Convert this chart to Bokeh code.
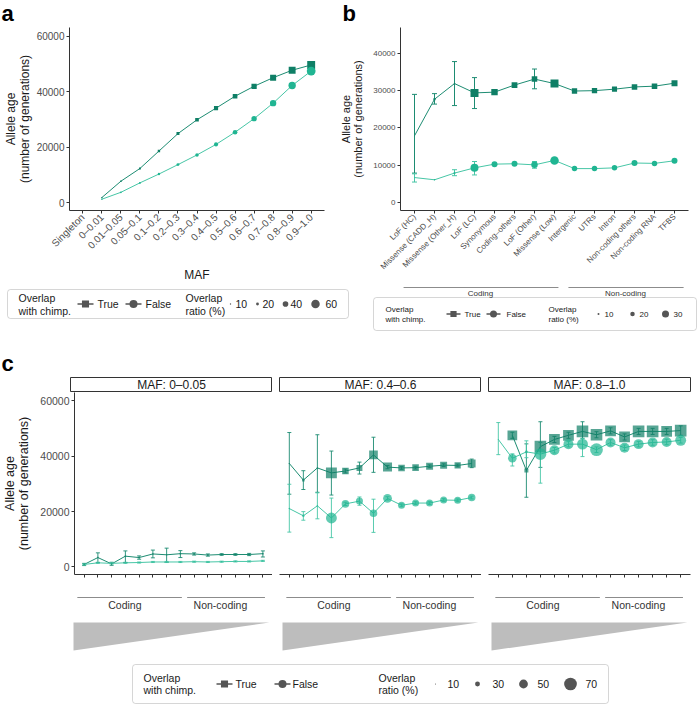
import math
from bokeh.plotting import figure
from bokeh.models import (FactorRange, Range1d, FixedTicker, NumeralTickFormatter,
                          BoxAnnotation, CustomLabelingPolicy)
from bokeh.layouts import row, column
from bokeh.embed import file_html
from bokeh.resources import INLINE
from bokeh.core.properties import value

nan = float("nan")
FONT = "Liberation Sans"
C_TRUE = "#0f7f66"
C_FALSE = "#20b592"
L_TRUE = "#1d8c72"
L_FALSE = "#47c6a6"
KEY = "#555555"
TXT = "#1a1a1a"
TICK = "#4d4d4d"

# ---------------- data: panel a ----------------
maf_bins = ["Singleton", "0–0.01", "0.01–0.05", "0.05–0.1", "0.1–0.2", "0.2–0.3",
            "0.3–0.4", "0.4–0.5", "0.5–0.6", "0.6–0.7", "0.7–0.8", "0.8–0.9", "0.9–1.0"]
a_true_age = [nan, 1800, 7700, 12300, 18600, 24900, 29900, 34100, 38400, 42000, 45100, 47800, 49700]
a_false_age = [nan, 1200, 3700, 7100, 10300, 13700, 17200, 21000, 25400, 30300, 35900, 42300, 47500]
a_true_ratio = [nan, 10, 12, 15, 19, 24, 29, 33, 37, 42, 48, 55, 63]
a_false_ratio = [nan, 10, 12, 14, 17, 21, 25, 29, 33, 38, 45, 52, 62]
a_yticks = [0, 20000, 40000, 60000]
a_ratio_breaks = [10, 20, 40, 60]

# ---------------- data: panel b ----------------
var_cats = ["LoF (HC)", "Missense (CADD_H)", "Missense (Other_H)", "LoF (LC)", "Synonymous",
            "Coding–others", "LoF (Other)", "Missense (Low)", "Intergenic", "UTRs", "Intron",
            "Non-coding others", "Non-coding RNA", "TFBS"]
b_true_age = [17900, 27700, 31900, 29400, 29600, 31500, 33100, 31900, 29900, 30000, 30400, 31000, 31200, 32000]
b_true_lo = [7900, 26400, 26000, 25200, nan, nan, 30500, nan, nan, nan, nan, nan, nan, nan]
b_true_hi = [29000, 29200, 37800, 33500, nan, nan, 35800, nan, nan, nan, nan, nan, nan, nan]
b_false_age = [6700, 6100, 7900, 9300, 10300, 10400, 10100, 11300, 9100, 9100, 9300, 10600, 10500, 11200]
b_false_lo = [5500, nan, 7200, 7400, nan, nan, 9200, nan, nan, nan, nan, nan, nan, nan]
b_false_hi = [7700, nan, 8800, 11000, nan, nan, 11000, nan, nan, nan, nan, nan, nan, nan]
b_true_ratio = [4, 12, 8, 38, 31, 28, 27, 38, 26, 26, 25, 27, 27, 29]
b_false_ratio = [4, 8, 10, 34, 26, 26, 28, 36, 24, 24, 24, 26, 24, 26]
b_yticks = [0, 10000, 20000, 30000, 40000]
b_ratio_breaks = [10, 20, 30]
group_labels = ["Coding", "Non-coding"]

# ---------------- data: panel c ----------------
facet_labels = ["MAF: 0–0.05", "MAF: 0.4–0.6", "MAF: 0.8–1.0"]
c1_true = [900, 3400, 1100, 3900, 3400, 4700, 4400, 4800, 4700, 4300, 4500, 4500, 4500, 4800]
c1_true_lo = [500, 1600, 600, 1600, 2800, 3300, 1700, 3400, 4300, 3900, 4200, 4200, 4100, 3600]
c1_true_hi = [1300, 5100, 1700, 5800, 4000, 6100, 6800, 5900, 5100, 4700, 4800, 4800, 4900, 5800]
c1_false = [900, 1500, 1300, 1500, 1600, 1800, 1800, 1800, 1900, 1800, 1900, 2000, 2000, 2200]
c1_false_lo = [700, 1300, 1100, 1300, 1400, 1600, 1600, 1600, 1700, 1600, 1700, 1800, 1800, 2000]
c1_false_hi = [1100, 1700, 1500, 1700, 1800, 2000, 2000, 2000, 2100, 2000, 2100, 2200, 2200, 2400]
c1_true_ratio = [12, 13, 12, 14, 13, 13, 12, 14, 13, 13, 13, 13, 13, 14]
c1_false_ratio = [10, 11, 11, 11, 11, 11, 11, 11, 11, 11, 11, 11, 11, 12]

c2_true = [37400, 31400, 35800, 34000, 34700, 35800, 40500, 36100, 35800, 35900, 36400, 36800, 36700, 37400]
c2_true_lo = [26300, 28000, 27000, 26000, 34000, 33600, 34200, 35500, 35300, 35400, 35900, 36300, 36200, 35900]
c2_true_hi = [48600, 34800, 47800, 41900, 35400, 37900, 46900, 36700, 36300, 36400, 36900, 37300, 37200, 39000]
c2_false = [21100, 18500, 22100, 17700, 22800, 23800, 19400, 24800, 22300, 23100, 23100, 24200, 24100, 25100]
c2_false_lo = [12600, 16900, 17400, 10600, 22200, 22300, 12500, 24200, 21800, 22600, 22600, 23700, 23600, 24600]
c2_false_hi = [29900, 20000, 26800, 24900, 23400, 25300, 24500, 25400, 22800, 23600, 23600, 24700, 24600, 25600]
c2_true_ratio = [12, 20, 13, 68, 43, 39, 55, 57, 43, 43, 45, 45, 41, 50]
c2_false_ratio = [13, 18, 13, 61, 44, 41, 44, 50, 41, 41, 41, 41, 41, 44]

c3_true = [nan, 47600, 34900, 43500, 46100, 47600, 49000, 47800, 49200, 47000, 49000, 49000, 49000, 49300]
c3_true_lo = [nan, 46500, 25200, 36000, 45000, 46500, 46500, 46700, 48100, 45900, 47900, 47900, 47900, 47600]
c3_true_hi = [nan, 48700, 44500, 52500, 47200, 48700, 52500, 48900, 50300, 48100, 50100, 50100, 50100, 51000]
c3_false = [46100, 39300, 41600, 40800, 42200, 44400, 44400, 42400, 45000, 43100, 44400, 45000, 45200, 45800]
c3_false_lo = [40600, 36500, 39500, 30300, 41200, 43400, 39900, 41400, 44000, 42100, 43400, 44000, 44200, 44800]
c3_false_hi = [52200, 40900, 45600, 45000, 43200, 45400, 46500, 43400, 46000, 44100, 45400, 46000, 46200, 46800]
c3_true_ratio = [nan, 61, 28, 72, 67, 67, 72, 72, 67, 67, 72, 72, 67, 72]
c3_false_ratio = [10, 49, 20, 66, 56, 56, 61, 70, 56, 56, 56, 56, 56, 61]
c_yticks = [0, 20000, 40000, 60000]
c_ratio_breaks = [10, 30, 50, 70]

SQ = 0.886  # square side relative to circle diameter of equal area
YTITLE = "Allele age\n(number of generations)"


def size_lin(v, v0, d0, k):
    if v is None or v != v:
        return 0.0
    return max(0.8, d0 + (v - v0) * k)


def size_a(v):
    return size_lin(v, 10, 1.4, 0.142)


def size_b(v):
    return size_lin(v, 10, 2.0, 0.25)


def size_c(v):
    return size_lin(v, 10, 1.0, 0.195)


def fig(width, height, xr, yr, left=0, right=0, top=0, bottom=0, xaxis=None, yaxis=None):
    p = figure(width=width, height=height, x_range=xr, y_range=yr, output_backend="svg",
               toolbar_location=None, x_axis_location=xaxis, y_axis_location=yaxis,
               min_border_left=left, min_border_right=right,
               min_border_top=top, min_border_bottom=bottom)
    p.outline_line_color = None
    p.center = []
    p.background_fill_color = "white"
    p.border_fill_color = "white"
    return p


def axis_style(ax, size):
    ax.axis_line_color = "#333333"
    ax.axis_line_width = 1
    ax.major_tick_line_color = "#333333"
    ax.major_tick_out = 3
    ax.major_tick_in = 0
    ax.minor_tick_line_color = None
    ax.major_label_text_font = FONT
    ax.major_label_text_font_size = size
    ax.major_label_text_color = TICK
    ax.major_label_standoff = 2
    ax.axis_label_text_font = FONT
    ax.axis_label_text_font_style = "normal"
    ax.axis_label_text_color = TXT
    ax.axis_label_text_line_height = 1.0


def errbars(p, xs, lo, hi, color, cap, alpha=1.0):
    p.segment(x0=xs, x1=xs, y0=lo, y1=hi, line_color=color, line_width=1, line_alpha=alpha)
    p.scatter(x=xs, y=lo, marker="dash", size=cap, line_color=color, line_width=1, line_alpha=alpha)
    p.scatter(x=xs, y=hi, marker="dash", size=cap, line_color=color, line_width=1, line_alpha=alpha)


def txt(p, xs, ys, texts, size, align="left", color=TXT, bold=False, baseline="middle"):
    p.text(x=xs, y=ys, text=texts, text_font=value(FONT), text_font_size=size,
           text_align=align, text_baseline=baseline, text_color=color,
           text_font_style="bold" if bold else "normal", text_line_height=1.0)


def legend_items(p, box, cy, dy, fs, pos, breaks, size_fn, key_d):
    p.add_layout(BoxAnnotation(left=box[0], right=box[1], bottom=box[2], top=box[3],
                               fill_color=None, line_color="#777777", line_width=1,
                               border_radius=3))
    txt(p, [pos["t1"], pos["t1"]], [cy + dy, cy - dy], ["Overlap", "with chimp."], fs)
    for (kx, l0, l1, tx, mk, name) in [(pos["sq"], pos["sql"][0], pos["sql"][1], pos["tt"], "square", "True"),
                                       (pos["ci"], pos["cil"][0], pos["cil"][1], pos["ft"], "circle", "False")]:
        p.segment(x0=[l0], x1=[l1], y0=[cy], y1=[cy], line_color=KEY, line_width=1.3)
        p.scatter(x=[kx], y=[cy], marker=mk, size=key_d * (SQ if mk == "square" else 1.0),
                  fill_color=KEY, line_color=None)
        txt(p, [tx], [cy], [name], fs)
    txt(p, [pos["t2"], pos["t2"]], [cy + dy, cy - dy], ["Overlap", "ratio (%)"], fs)
    p.scatter(x=pos["dots"], y=[cy] * len(breaks), marker="circle",
              size=[size_fn(v) for v in breaks], fill_color=KEY, line_color=None)
    txt(p, pos["dtx"], [cy] * len(breaks), [str(v) for v in breaks], fs)


W = 698

# =============== header with panel letters a / b ===============
hab = fig(W, 26, Range1d(0, W), Range1d(0, 26))
txt(hab, [1, 342], [13, 13], ["a", "b"], "22px", bold=True, baseline="middle", color="#000000")

# =============== panel a ===============
xa = FactorRange(factors=maf_bins, range_padding=0.2, range_padding_units="absolute")
pa = fig(337, 258, xa, Range1d(-2874, 63234), 67, 13, 1, 73, "below", "left")
axis_style(pa.xaxis[0], "10px")
axis_style(pa.yaxis[0], "10px")
pa.xaxis[0].major_label_orientation = math.pi / 4
pa.xaxis[0].axis_label = "MAF"
pa.xaxis[0].axis_label_text_font_size = "12px"
pa.xaxis[0].axis_label_standoff = 10
pa.yaxis[0].axis_label = YTITLE
pa.yaxis[0].axis_label_text_font_size = "12px"
pa.yaxis[0].axis_label_standoff = 2
pa.yaxis[0].ticker = FixedTicker(ticks=a_yticks)
pa.yaxis[0].formatter = NumeralTickFormatter(format="0")
pa.line(maf_bins, a_true_age, line_color=L_TRUE, line_width=1)
pa.line(maf_bins, a_false_age, line_color=L_FALSE, line_width=1)
pa.scatter(maf_bins, a_true_age, marker="square", size=[size_a(v) * SQ for v in a_true_ratio],
           fill_color=C_TRUE, line_color=None)
pa.scatter(maf_bins, a_false_age, marker="circle", size=[size_a(v) for v in a_false_ratio],
           fill_color=C_FALSE, line_color=None)

# =============== panel b ===============
xb = FactorRange(factors=var_cats, range_padding=0.2, range_padding_units="absolute")
pb = fig(361, 258, xb, Range1d(-2133, 46933), 62, 10, 1, 73, "below", "left")
axis_style(pb.xaxis[0], "8px")
axis_style(pb.yaxis[0], "8px")
pb.xaxis[0].major_label_orientation = math.pi / 4
pb.yaxis[0].axis_label = YTITLE
pb.yaxis[0].axis_label_text_font_size = "11px"
pb.yaxis[0].axis_label_standoff = 6
pb.yaxis[0].ticker = FixedTicker(ticks=b_yticks)
pb.yaxis[0].formatter = NumeralTickFormatter(format="0")
errbars(pb, var_cats, b_true_lo, b_true_hi, L_TRUE, 5)
errbars(pb, var_cats, b_false_lo, b_false_hi, L_FALSE, 5)
pb.line(var_cats, b_true_age, line_color=L_TRUE, line_width=1)
pb.line(var_cats, b_false_age, line_color=L_FALSE, line_width=1)
pb.scatter(var_cats, b_true_age, marker="square", size=[size_b(v) * SQ for v in b_true_ratio],
           fill_color=C_TRUE, line_color=None)
pb.scatter(var_cats, b_false_age, marker="circle", size=[size_b(v) for v in b_false_ratio],
           fill_color=C_FALSE, line_color=None)

# =============== legend a ===============
legA = fig(350, 51, Range1d(0, 350), Range1d(0, 51))
legend_items(legA, (7, 348, 17, 46), 31.5, 6.5, "10.5px",
             dict(t1=18, sq=85, sql=(77, 93), tt=97, ci=133, cil=(125, 141), ft=145, t2=185,
                  dots=[230, 257, 285, 315], dtx=[235, 262, 290, 325]),
             a_ratio_breaks, size_a, 8)

# =============== bracket + legend b ===============
nb = len(var_cats)


def bx(c):
    # position (in this strip's pixel range) of a category coordinate of panel b
    return 49 + (c + 0.1) * 289 / (nb + 0.2)


legB = fig(348, 51, Range1d(0, 348), Range1d(0, 51))
legB.segment(x0=[bx(0.1), bx(8.2)], x1=[bx(7.71), bx(13.86)], y0=[48, 48], y1=[48, 48],
             line_color="#8c8c8c", line_width=1)
txt(legB, [bx(3.88), bx(11.0)], [42, 42], group_labels, "8px", align="center", color="#333333")
legend_items(legB, (23, 346, 5, 38), 21.5, 5, "8px",
             dict(t1=35, sq=103, sql=(96, 110), tt=114, ci=143, cil=(136, 150), ft=156, t2=198,
                  dots=[248, 282, 315], dtx=[254, 289, 323]),
             b_ratio_breaks, size_b, 7)

# =============== header c ===============
hc = fig(W, 41, Range1d(0, W), Range1d(0, 41))
txt(hc, [1], [13], ["c"], "22px", bold=True, baseline="middle", color="#000000")

# =============== panel c ===============
xc = FactorRange(factors=var_cats, range_padding=0.2, range_padding_units="absolute")
yc = Range1d(-2727, 63070)
hide_labels = CustomLabelingPolicy(code="for (const i of indices) { indices.unset(i) }\nreturn indices")
facets = [(c1_true, c1_true_lo, c1_true_hi, c1_false, c1_false_lo, c1_false_hi, c1_true_ratio, c1_false_ratio),
          (c2_true, c2_true_lo, c2_true_hi, c2_false, c2_false_lo, c2_false_hi, c2_true_ratio, c2_false_ratio),
          (c3_true, c3_true_lo, c3_true_hi, c3_false, c3_false_lo, c3_false_hi, c3_true_ratio, c3_false_ratio)]
strip_figs, facet_figs, brk_figs, tri_figs = [], [], [], []
for i, (tv, tlo, thi, fv, flo, fhi, tr, fr) in enumerate(facets):
    left = 70 if i == 0 else 7
    right = 8 if i == 2 else 0
    w = left + 202 + right
    # strip
    s = fig(w, 16, Range1d(0, 1), Range1d(0, 1), left, right, 1, 1)
    s.outline_line_color = "#333333"
    s.outline_line_width = 1
    txt(s, [0.5], [0.5], [facet_labels[i]], "12px", align="center")
    strip_figs.append(s)
    # panel
    p = fig(w, 199, xc, yc, left, right, 0, 6, "below", "left" if i == 0 else None)
    axis_style(p.xaxis[0], "10px")
    p.xaxis[0].major_label_policy = hide_labels
    p.xaxis[0].major_label_standoff = 0
    if i == 0:
        axis_style(p.yaxis[0], "10.5px")
        p.yaxis[0].ticker = FixedTicker(ticks=c_yticks)
        p.yaxis[0].formatter = NumeralTickFormatter(format="0")
        p.yaxis[0].axis_label = YTITLE
        p.yaxis[0].axis_label_text_font_size = "12.5px"
        p.yaxis[0].axis_label_standoff = 6
    p.line(var_cats, tv, line_color=L_TRUE, line_width=1)
    p.line(var_cats, fv, line_color=L_FALSE, line_width=1)
    errbars(p, var_cats, tlo, thi, L_TRUE, 4, 0.9)
    errbars(p, var_cats, flo, fhi, L_FALSE, 4, 0.9)
    p.scatter(var_cats, tv, marker="square", size=[size_c(v) * SQ for v in tr],
              fill_color=C_TRUE, fill_alpha=0.7, line_color=None)
    p.scatter(var_cats, fv, marker="circle", size=[size_c(v) for v in fr],
              fill_color=C_FALSE, fill_alpha=0.7, line_color=None)
    facet_figs.append(p)
    # bracket (numeric range equal to the factor range's synthetic coordinates)
    b = fig(w, 20, Range1d(-0.1, nb + 0.1), Range1d(0, 20), left, right, 0, 0)
    b.segment(x0=[0.38, 8.1], x1=[7.73, 13.57], y0=[14, 14], y1=[14, 14],
              line_color="#8c8c8c", line_width=1)
    txt(b, [3.72, 10.44], [7, 7], group_labels, "10.5px", align="center", color="#333333")
    brk_figs.append(b)
    # triangle
    t = fig(w, 42, Range1d(-0.1, nb + 0.1), Range1d(0, 42), left, right, 0, 0)
    t.patch(x=[0.11, 0.11, 13.88], y=[31, 3, 31], fill_color="#bdbdbd", line_color=None)
    tri_figs.append(t)

legC = fig(W, 52, Range1d(0, W), Range1d(0, 52))
legend_items(legC, (132, 608, 2, 41), 21.5, 6, "10.5px",
             dict(t1=143, sq=224, sql=(216, 232), tt=235, ci=282, cil=(274, 290), ft=292, t2=378,
                  dots=[435, 477, 523, 570], dtx=[447, 492, 537, 585]),
             c_ratio_breaks, size_c, 8)

layout = column(
    hab,
    row(pa, pb),
    row(legA, legB),
    hc,
    row(*strip_figs),
    row(*facet_figs),
    row(*brk_figs),
    row(*tri_figs),
    legC,
)

open("out.html", "w").write(file_html(layout, INLINE))
